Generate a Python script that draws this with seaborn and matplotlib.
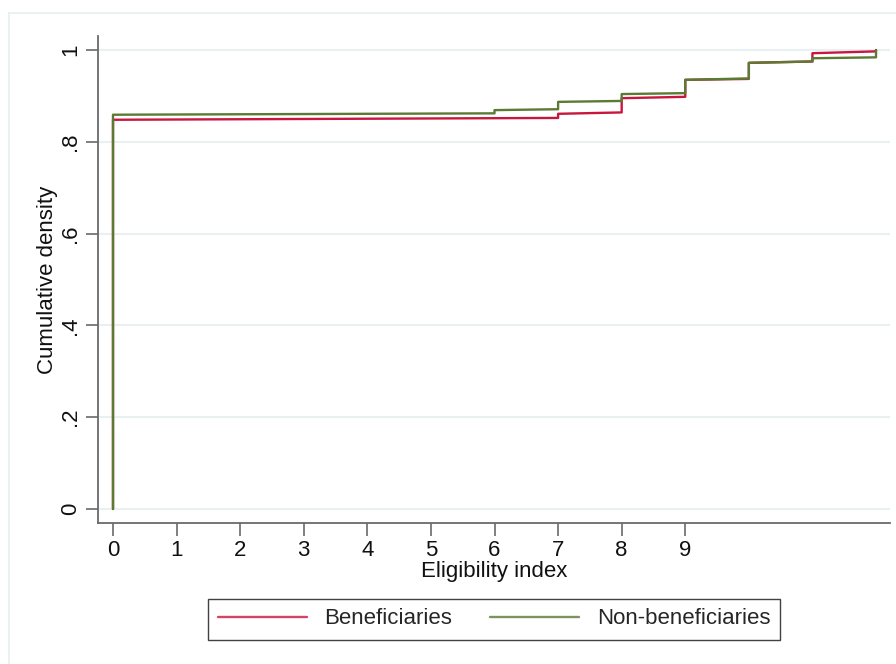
import numpy as np
import pandas as pd
import matplotlib
matplotlib.use("Agg")
import matplotlib.pyplot as plt
import seaborn as sns
from matplotlib.lines import Line2D

# Empirical cumulative distribution of the eligibility index, by group.
# Each interval starts at a break and carries the CDF at its left and right end.
ben_breaks = [0, 7, 8, 9, 10, 11, 12]
ben_start = [0.848, 0.861, 0.895, 0.935, 0.972, 0.993]
ben_end = [0.852, 0.864, 0.898, 0.937, 0.975, 0.997]

non_breaks = [0, 6, 7, 8, 9, 10, 11, 12]
non_start = [0.859, 0.869, 0.887, 0.904, 0.935, 0.972, 0.982]
non_end = [0.862, 0.871, 0.889, 0.906, 0.938, 0.975, 0.984]

groups = ["Beneficiaries", "Non-beneficiaries"]
colors = ["#c8173f", "#5b7a33"]

y_ticks = [0, 0.2, 0.4, 0.6, 0.8, 1.0]
y_labels = ["0", ".2", ".4", ".6", ".8", "1"]
x_ticks = list(range(10))


def step_path(breaks, start, end, name):
    xs, ys = [breaks[0]], [0.0]
    for i in range(len(start)):
        xs += [breaks[i], breaks[i + 1]]
        ys += [start[i], end[i]]
    xs.append(breaks[-1])
    ys.append(1.0)
    return pd.DataFrame({"x": xs, "y": ys, "group": name})


df = pd.concat([
    step_path(ben_breaks, ben_start, ben_end, groups[0]),
    step_path(non_breaks, non_start, non_end, groups[1]),
], ignore_index=True)

sns.set_theme(style="white")
plt.rcParams["font.family"] = ["Liberation Sans", "DejaVu Sans"]

fig = plt.figure(figsize=(8.96, 6.64), dpi=100)
ax = fig.add_axes([98 / 896, 1 - 523 / 664, (890 - 98) / 896, (523 - 36) / 664])

sns.lineplot(data=df, x="x", y="y", hue="group", hue_order=groups,
             palette=colors, estimator=None, sort=False,
             linewidth=1.7, legend=False, ax=ax)

ax.set_xlim(-0.236, 12.22)
ax.set_ylim(-0.0305, 1.0305)
ax.set_xticks(x_ticks)
ax.set_xticklabels([str(t) for t in x_ticks], fontsize=16)
ax.set_yticks(y_ticks)
ax.set_yticklabels(y_labels, fontsize=16, rotation=90, va="center")

for y in y_ticks:
    ax.axhline(y, color="#e8f0f2", linewidth=1.5, zorder=0)

for side in ["top", "right"]:
    ax.spines[side].set_visible(False)
for side in ["left", "bottom"]:
    ax.spines[side].set_color("#6a6a6a")
    ax.spines[side].set_linewidth(1.3)

ax.tick_params(axis="both", which="major", length=9, width=1.2,
               color="#6a6a6a", labelcolor="#111111", bottom=True, left=True)
ax.tick_params(axis="x", pad=3)
ax.tick_params(axis="y", pad=3)

ax.set_xlabel("Eligibility index", fontsize=16, color="#111111", labelpad=0)
ax.set_ylabel("Cumulative density", fontsize=16, color="#111111", labelpad=2)

handles = [Line2D([], [], color=c, linewidth=1.7, alpha=0.8) for c in colors]
leg = fig.legend(handles, groups, loc="center", ncol=2,
                 bbox_to_anchor=(494 / 896, 1 - 619 / 664), fontsize=16,
                 frameon=True, fancybox=False, handlelength=4.0,
                 handletextpad=0.8, columnspacing=1.7, borderpad=0.45)
leg.get_frame().set_edgecolor("#111111")
leg.get_frame().set_linewidth(1.0)

# faint outer frame of the graph region
fig.add_artist(Line2D([8.5 / 896, 8.5 / 896], [0, 1 - 12.5 / 664],
                      transform=fig.transFigure, color="#e6eff0", linewidth=1.2))
fig.add_artist(Line2D([8.5 / 896, 1], [1 - 12.5 / 664, 1 - 12.5 / 664],
                      transform=fig.transFigure, color="#e6eff0", linewidth=1.2))

fig.savefig("out.png", dpi=100, facecolor="white")
